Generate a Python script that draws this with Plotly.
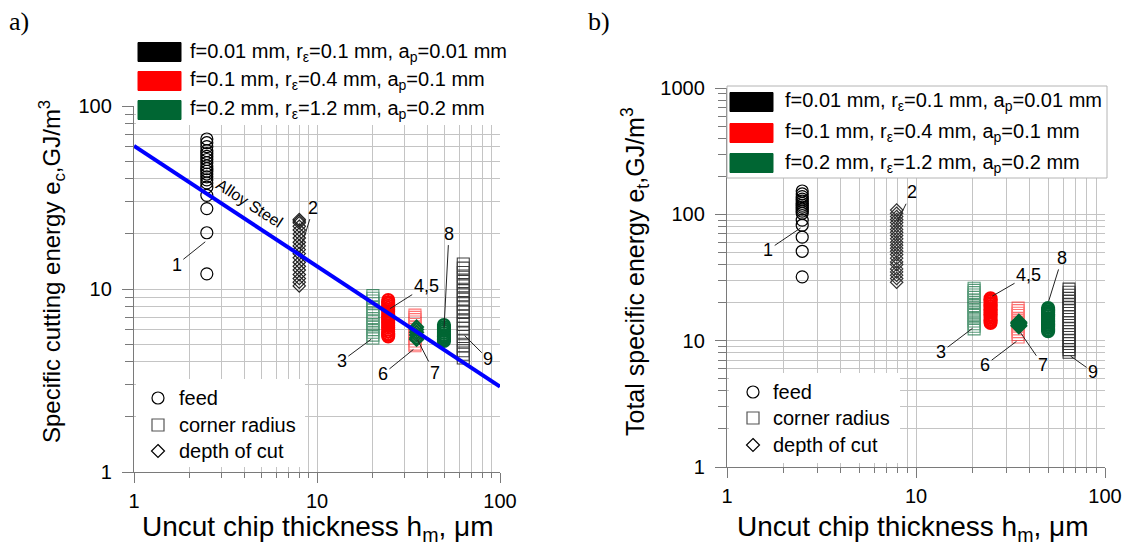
import math
import plotly.graph_objects as go

W, H = 1129, 549

# ---------------- data: panel a) specific cutting energy e_c (GJ/m^3) ----------------
a_g1_x = 2.5   # feed, black circles
a_g1_y = [66, 63, 60, 57, 55, 53, 51, 49, 47, 45.5, 44, 42.5, 41, 39.5, 38, 36, 32.5, 27.5, 20.3, 12.1]
a_g2_x = 8.0   # depth of cut, black diamonds
a_g2_y = [24, 23.5, 23, 22, 21, 20, 19, 18, 17.2, 16.4, 15.6, 14.8, 14, 13.3, 12.7, 12, 11.4, 10.9, 10.4]
a_g3_x = 20.2  # corner radius, green squares
a_g3_y = [9.2, 8.9, 8.6, 8.3, 8.0, 7.7, 7.4, 7.2, 6.9, 6.7, 6.4, 6.2, 6.0, 5.8, 5.6, 5.4]
a_g4_x = 24.5  # feed, red circles
a_g4_y = [8.7, 8.5, 8.3, 8.1, 7.9, 7.7, 7.5, 7.3, 7.1, 6.9, 6.75, 6.6, 6.45, 6.3, 6.15, 6.0,
          5.85, 5.7, 5.6, 5.5]
a_g5_x = 24.5  # depth of cut, red diamonds
a_g5_y = [8.5, 8.0, 7.6, 7.1, 6.6, 6.2, 5.8]
a_g6_x = 34.3  # corner radius, red squares
a_g6_y = [7.2, 7.0, 6.8, 6.6, 6.4, 6.2, 6.0, 5.8, 5.6, 5.4, 5.2, 5.0, 4.9]
a_g7_x = 35.0  # depth of cut, green diamonds
a_g7_y = [6.2, 6.0, 5.8, 5.6, 5.4, 5.3]
a_g8_x = 49.4  # feed, green circles
a_g8_y = [6.35, 6.2, 6.05, 5.9, 5.75, 5.6, 5.5, 5.4, 5.3, 5.2]
a_g9_x = 63.0  # corner radius, black squares
a_g9_y = [13.7, 13.0, 12.3, 11.6, 11.0, 10.4, 9.8, 9.3, 8.8, 8.3, 7.9, 7.5, 7.1, 6.7,
          6.4, 6.1, 5.8, 5.5, 5.2, 4.9, 4.6, 4.4, 4.2]

alloy_x = [1, 100]
alloy_y = [60.5, 2.93]

# ---------------- data: panel b) total specific energy e_t (GJ/m^3) ----------------
b_g1_x = 2.5
b_g1_y = [153, 145, 138, 132, 127, 122, 118, 114, 110, 106, 102, 90, 82, 66, 51, 32]
b_g2_x = 7.9
b_g2_y = [108, 102, 96, 91, 86, 81, 76, 72, 68, 64, 60, 57, 54, 51, 48, 45, 42, 40, 37, 35, 33, 31, 29]
b_g3_x = 20.3
b_g3_y = [26, 25, 24, 23, 22, 21, 20, 19, 18.2, 17.4, 16.6, 15.8, 15, 14.3, 13.6, 13, 12.4]
b_g4_x = 24.8
b_g4_y = [21.7, 21.1, 20.5, 19.9, 19.3, 18.7, 18.1, 17.6, 17.1, 16.6, 16.1, 15.6, 15.1, 14.6,
          14.2, 13.8]
b_g5_x = 24.8
b_g5_y = [21, 19, 17.5, 16, 14.5]
b_g6_x = 34.7
b_g6_y = [18.1, 17.3, 16.5, 15.8, 15, 14.3, 13.6, 13, 12.4, 11.8, 11.2, 10.7]
b_g7_x = 35.0
b_g7_y = [14.0, 13.6, 13.1]
b_g8_x = 50.0
b_g8_y = [18.1, 17.6, 17.1, 16.6, 16.1, 15.6, 15.1, 14.6, 14.2, 13.8, 13.4, 13.0, 12.6,
          12.2, 11.9]
b_g9_x = 64.5
b_g9_y = [25.6, 24.2, 22.9, 21.6, 20.4, 19.3, 18.3, 17.3, 16.4, 15.5, 14.7, 13.9, 13.2, 12.5,
          11.8, 11.2, 10.6, 10.0, 9.5, 9.0, 8.5, 8.1]

legend_colors = ["#000000", "#ff0000", "#006633"]
legend_texts = [
    "f=0.01 mm, r<sub>ε</sub>=0.1 mm, a<sub>p</sub>=0.01 mm",
    "f=0.1 mm, r<sub>ε</sub>=0.4 mm, a<sub>p</sub>=0.1 mm",
    "f=0.2 mm, r<sub>ε</sub>=1.2 mm, a<sub>p</sub>=0.2 mm",
]
symbol_texts = ["feed", "corner radius", "depth of cut"]

FONT = "Liberation Sans, Arial, sans-serif"
SERIF = "Liberation Serif, Times New Roman, serif"
BLACK, RED, GREEN = legend_colors

fig = go.Figure()


def add_group(x, ys, symbol, color, size, xa, ya, opacity=1.0, lw=1.2):
    fig.add_trace(go.Scatter(
        x=[x] * len(ys), y=ys, mode="markers", xaxis=xa, yaxis=ya, showlegend=False,
        opacity=opacity, hoverinfo="skip",
        marker=dict(symbol=symbol, size=size, color=color, line=dict(width=lw, color=color)),
    ))


# (x, y-list, symbol, colour, size, opacity, line width)
groups_a = [
    (a_g1_x, a_g1_y, "circle-open", BLACK, 12, 1.0, 1.2),
    (a_g2_x, a_g2_y, "diamond-open", "#222222", 9.5, 1.0, 1.2),
    (a_g3_x, a_g3_y, "square-open", GREEN, 12, 0.65, 1.1),
    (a_g4_x, a_g4_y, "circle-open", RED, 12, 1.0, 2.0),
    (a_g5_x, a_g5_y, "diamond-open", RED, 9.5, 1.0, 1.2),
    (a_g6_x, a_g6_y, "square-open", RED, 12, 0.55, 1.1),
    (a_g7_x, a_g7_y, "diamond-open", GREEN, 10, 1.0, 2.0),
    (a_g8_x, a_g8_y, "circle-open", GREEN, 12, 1.0, 2.2),
    (a_g9_x, a_g9_y, "square-open", BLACK, 12, 0.75, 1.1),
]
groups_b = [
    (b_g1_x, b_g1_y, "circle-open", BLACK, 12, 1.0, 1.2),
    (b_g2_x, b_g2_y, "diamond-open", "#333333", 9.5, 1.0, 1.2),
    (b_g3_x, b_g3_y, "square-open", GREEN, 12, 0.65, 1.1),
    (b_g4_x, b_g4_y, "circle-open", RED, 12, 1.0, 2.0),
    (b_g5_x, b_g5_y, "diamond-open", RED, 9.5, 1.0, 1.2),
    (b_g6_x, b_g6_y, "square-open", RED, 12, 0.55, 1.1),
    (b_g7_x, b_g7_y, "diamond", GREEN, 12, 1.0, 1.5),
    (b_g8_x, b_g8_y, "circle-open", GREEN, 12, 1.0, 2.2),
    (b_g9_x, b_g9_y, "square-open", BLACK, 12, 0.75, 1.1),
]

for g in groups_a:
    add_group(g[0], g[1], g[2], g[3], g[4], "x", "y", opacity=g[5], lw=g[6])
for g in groups_b:
    add_group(g[0], g[1], g[2], g[3], g[4], "x2", "y2", opacity=g[5], lw=g[6])

fig.add_trace(go.Scatter(x=alloy_x, y=alloy_y, mode="lines", xaxis="x", yaxis="y",
                         line=dict(color="#0000ff", width=4), showlegend=False, hoverinfo="skip"))


def X(px):
    return px / W


def Y(py):
    return 1 - py / H


AX = "#7a7a7a"
GRID = "#c4c4c4"
minor_vals_2 = [2, 3, 4, 5, 6, 7, 8, 9, 20, 30, 40, 50, 60, 70, 80, 90]
minor_vals_3 = minor_vals_2 + [200, 300, 400, 500, 600, 700, 800, 900]


def xaxis_cfg(d0, d1, anchor):
    return dict(type="log", range=[0, 2], domain=[X(d0), X(d1)], anchor=anchor, automargin=False,
                showline=True, linecolor=AX, linewidth=1.3, ticks="outside", ticklen=10,
                tickcolor=AX, tickwidth=1.2, tickvals=[1, 10, 100], ticktext=["1", "10", "100"],
                tickfont=dict(family=FONT, size=20, color="#000"), showgrid=True,
                gridcolor=GRID, gridwidth=1, zeroline=False, ticklabelstandoff=1,
                minor=dict(tickvals=minor_vals_2, ticks="outside", ticklen=5, tickcolor=AX,
                           tickwidth=1.2, showgrid=True, gridcolor=GRID, gridwidth=1))


def yaxis_cfg(top, bot, anchor, rng, vals):
    return dict(type="log", range=rng, domain=[Y(bot), Y(top)], anchor=anchor, automargin=False,
                showline=True, linecolor=AX, linewidth=1.3, ticks="outside", ticklen=11,
                tickcolor=AX, tickwidth=1.2, tickvals=vals, ticktext=[str(v) for v in vals],
                tickfont=dict(family=FONT, size=20, color="#000"), showgrid=True,
                gridcolor=GRID, gridwidth=1, zeroline=False, ticklabelstandoff=6,
                minor=dict(tickvals=minor_vals_3, ticks="outside", ticklen=8, tickcolor=AX,
                           tickwidth=1.2, showgrid=True, gridcolor=GRID, gridwidth=1))


shapes = []
annotations = []

# legend boxes (white, covering the grid)
shapes.append(dict(type="rect", xref="paper", yref="paper", x0=X(136), x1=X(512), y0=Y(125), y1=Y(33),
                   fillcolor="white", line=dict(width=0), layer="above"))
shapes.append(dict(type="rect", xref="paper", yref="paper", x0=X(727), x1=X(1107), y0=Y(178), y1=Y(86),
                   fillcolor="white", line=dict(width=1, color="#b4b4b4"), layer="above"))
shapes.append(dict(type="rect", xref="paper", yref="paper", x0=X(136), x1=X(305), y0=Y(467), y1=Y(379),
                   fillcolor="white", line=dict(width=0), layer="above"))
shapes.append(dict(type="rect", xref="paper", yref="paper", x0=X(729), x1=X(900), y0=Y(463), y1=Y(373),
                   fillcolor="white", line=dict(width=0), layer="above"))

# colour legends
for (sx, tx, rows) in [(138, 188, [52, 81, 110]), (730, 783, [102, 133, 163])]:
    for col, txt, cy in zip(legend_colors, legend_texts, rows):
        shapes.append(dict(type="rect", xref="paper", yref="paper", x0=X(sx), x1=X(sx + 43),
                           y0=Y(cy + 9.5), y1=Y(cy - 9.5), fillcolor=col,
                           line=dict(width=1, color=col), layer="above"))
        annotations.append(dict(xref="paper", yref="paper", x=X(tx), y=Y(cy), text=txt,
                                showarrow=False, xanchor="left", yanchor="middle",
                                font=dict(family=FONT, size=20, color="#000")))

# symbol legends
for (sx, tx, rows) in [(158, 177, [398, 425, 451]), (753, 771, [392, 418, 445])]:
    cy = rows[0]
    shapes.append(dict(type="circle", xref="paper", yref="paper", x0=X(sx - 6), x1=X(sx + 6),
                       y0=Y(cy + 6), y1=Y(cy - 6), line=dict(width=1.2, color="#000"), layer="above"))
    cy = rows[1]
    shapes.append(dict(type="rect", xref="paper", yref="paper", x0=X(sx - 6), x1=X(sx + 6),
                       y0=Y(cy + 6), y1=Y(cy - 6), line=dict(width=1.2, color="#555"), layer="above"))
    cy = rows[2]
    d = 6.5
    path = "M {} {} L {} {} L {} {} L {} {} Z".format(X(sx), Y(cy - d), X(sx + d), Y(cy),
                                                        X(sx), Y(cy + d), X(sx - d), Y(cy))
    shapes.append(dict(type="path", xref="paper", yref="paper", path=path,
                       line=dict(width=1.2, color="#000"), layer="above"))
    for txt, cy in zip(symbol_texts, rows):
        annotations.append(dict(xref="paper", yref="paper", x=X(tx), y=Y(cy), text=txt,
                                showarrow=False, xanchor="left", yanchor="middle",
                                font=dict(family=FONT, size=20, color="#000")))


def lab(text, xv, yv, ax, ay, xr, yr):
    annotations.append(dict(x=math.log10(xv), y=math.log10(yv), xref=xr, yref=yr, text=text,
                            showarrow=True, arrowhead=0, arrowwidth=1, arrowcolor="#222",
                            ax=ax, ay=ay, standoff=2,
                            font=dict(family=FONT, size=18, color="#000")))


# group labels, panel a
lab("1", 2.5, 18.4, -30, 24, "x", "y")
lab("2", 8.0, 15.6, 14, -46, "x", "y")
lab("3", 20.2, 5.4, -31, 23, "x", "y")
lab("4,5", 24.5, 7.7, 38, -24, "x", "y")
lab("6", 34.3, 4.75, -32, 26, "x", "y")
lab("7", 35.0, 5.4, 18, 35, "x", "y")
lab("8", 49.4, 6.0, 5, -96, "x", "y")
lab("9", 63.0, 5.66, 25, 25, "x", "y")
# group labels, panel b
lab("1", 2.5, 79.6, -34, 23, "x2", "y2")
lab("2", 7.9, 85, 15, -31, "x2", "y2")
lab("3", 20.3, 12.8, -33, 25, "x2", "y2")
lab("4,5", 24.8, 22.1, 38, -22, "x2", "y2")
lab("6", 34.7, 10.1, -33, 25, "x2", "y2")
lab("7", 35.0, 12.1, 24, 35, "x2", "y2")
lab("8", 50.0, 19.9, 14, -45, "x2", "y2")
lab("9", 64.5, 7.7, 24, 17, "x2", "y2")

annotations.append(dict(x=math.log10(4.3), y=math.log10(29.5), xref="x", yref="y", text="Alloy Steel",
                        showarrow=False, textangle=33, xanchor="center", yanchor="middle",
                        font=dict(family=FONT, size=16, color="#000")))

# axis titles and panel letters
annotations.append(dict(xref="paper", yref="paper", x=X(52), y=Y(272), textangle=-90, showarrow=False,
                        xanchor="center", yanchor="middle",
                        text="Specific cutting energy e<sub>c</sub>,GJ/m<sup>3</sup>",
                        font=dict(family=FONT, size=24, color="#000")))
annotations.append(dict(xref="paper", yref="paper", x=X(635), y=Y(272), textangle=-90, showarrow=False,
                        xanchor="center", yanchor="middle",
                        text="Total specific energy e<sub>t</sub>,GJ/m<sup>3</sup>",
                        font=dict(family=FONT, size=25, color="#000")))
for cx in (317, 912):
    annotations.append(dict(xref="paper", yref="paper", x=X(cx), y=Y(528), showarrow=False,
                            xanchor="center", yanchor="middle",
                            text="Uncut chip thickness h<sub>m</sub>, μm",
                            font=dict(family=FONT, size=28, color="#000")))
annotations.append(dict(xref="paper", yref="paper", x=X(19), y=Y(22), showarrow=False, text="a)",
                        xanchor="center", yanchor="middle",
                        font=dict(family=SERIF, size=26, color="#000")))
annotations.append(dict(xref="paper", yref="paper", x=X(599), y=Y(22), showarrow=False, text="b)",
                        xanchor="center", yanchor="middle",
                        font=dict(family=SERIF, size=26, color="#000")))

fig.update_layout(
    width=W, height=H, autosize=False, margin=dict(l=0, r=0, t=0, b=0, pad=0),
    paper_bgcolor="white", plot_bgcolor="white", showlegend=False,
    xaxis=xaxis_cfg(134, 500, "y"),
    yaxis=yaxis_cfg(106, 472, "x", [0, 2], [1, 10, 100]),
    xaxis2=xaxis_cfg(727, 1105, "y2"),
    yaxis2=yaxis_cfg(88, 467, "x2", [0, 3], [1, 10, 100, 1000]),
    shapes=shapes, annotations=annotations,
)

fig.write_html("out.html",
               post_script="document.body.style.margin='0px';document.body.style.overflow='hidden';")
